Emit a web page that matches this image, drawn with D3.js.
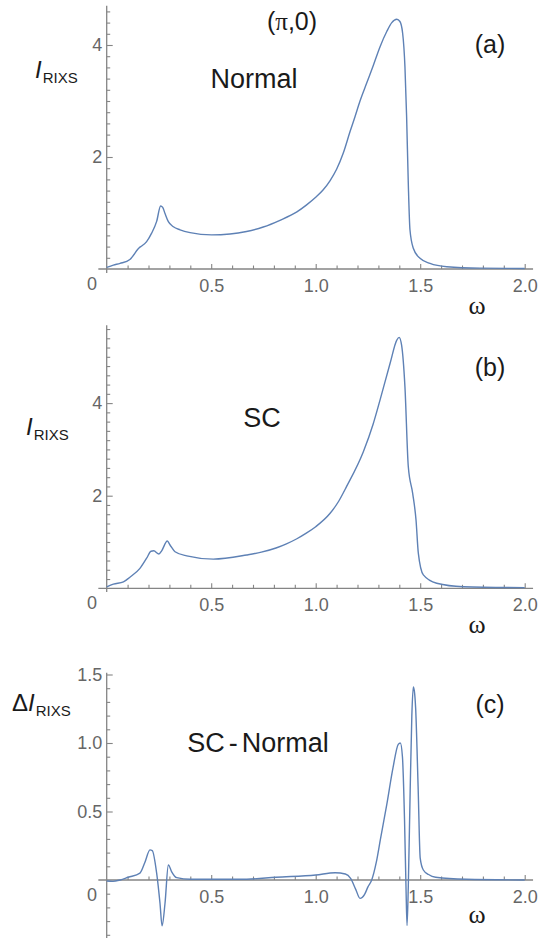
<!DOCTYPE html>
<html>
<head>
<meta charset="utf-8">
<script src="https://cdn.jsdelivr.net/npm/d3@7"></script>
<style>
  body { margin: 0; background: #fff; }
  svg { display: block; }
</style>
</head>
<body>
<svg id="chart" width="542" height="941"></svg>
<script>
// values, omega vs intensity
var omegaA = [0, 0.032, 0.064, 0.111, 0.159, 0.167, 0.191, 0.215, 0.239, 0.258, 0.268, 0.279, 0.295, 0.319, 0.351,
    0.399, 0.502, 0.59, 0.669, 0.749, 0.829, 0.91, 0.955, 1.0, 1.035, 1.069, 1.10, 1.132, 1.164, 1.188, 1.212, 1.244,
    1.276, 1.308, 1.34, 1.364, 1.388, 1.403, 1.416, 1.427, 1.435, 1.443, 1.451, 1.467, 1.499, 1.547, 1.627, 1.786, 2.0];
var normalA = [0.03, 0.07, 0.10, 0.17, 0.39, 0.41, 0.49, 0.64, 0.85, 1.125, 1.10, 0.99, 0.845, 0.755, 0.70,
    0.65, 0.61, 0.625, 0.67, 0.75, 0.87, 1.02, 1.14, 1.28, 1.41, 1.58, 1.78, 2.07, 2.45, 2.72, 3.0, 3.32,
    3.64, 3.97, 4.24, 4.40, 4.46, 4.42, 4.21, 3.61, 2.72, 1.53, 0.70, 0.37, 0.19, 0.10, 0.04, 0.015, 0.01];

var omegaB = [0, 0.032, 0.08, 0.111, 0.159, 0.191, 0.212, 0.225, 0.25, 0.263, 0.29, 0.303, 0.327, 0.383, 0.51,
    0.67, 0.74, 0.81, 0.86, 0.91, 0.955, 1.0, 1.069, 1.11, 1.148, 1.228, 1.275, 1.308, 1.356, 1.388, 1.399, 1.411,
    1.427, 1.443, 1.464, 1.48, 1.491, 1.515, 1.579, 1.706, 2.0];
var scB = [0.03, 0.09, 0.14, 0.24, 0.43, 0.65, 0.80, 0.81, 0.74, 0.81, 1.02, 0.935, 0.79, 0.70, 0.63,
    0.72, 0.78, 0.87, 0.96, 1.07, 1.19, 1.33, 1.62, 1.88, 2.2, 2.95, 3.55, 4.07, 4.86, 5.36, 5.42, 5.25,
    4.35, 2.63, 2.05, 1.475, 0.76, 0.29, 0.11, 0.035, 0.015];

var omegaC = [0, 0.03, 0.064, 0.103, 0.159, 0.183, 0.207, 0.218, 0.239, 0.255, 0.265, 0.279, 0.295, 0.311, 0.335,
    0.4, 0.67, 0.81, 1.0, 1.093, 1.142, 1.167, 1.192, 1.212, 1.234, 1.25, 1.268, 1.29, 1.31, 1.34,
    1.37, 1.395, 1.405, 1.415, 1.425, 1.432, 1.437, 1.443, 1.452, 1.46, 1.467, 1.472, 1.478, 1.49, 1.5,
    1.515, 1.54, 1.574, 1.72, 2.0];
var diffC = [-0.007, -0.01, 0, 0.02, 0.05, 0.13, 0.22, 0.215, 0.05, -0.17, -0.335, -0.17, 0.11, 0.06, 0.017,
    0.005, 0.006, 0.02, 0.036, 0.053, 0.044, 0.012, -0.07, -0.134, -0.105, -0.05, 0, 0.13, 0.3, 0.55,
    0.82, 0.99, 1.0, 0.9, 0.44, -0.05, -0.333, -0.05, 0.65, 1.2, 1.41, 1.38, 1.26, 0.68, 0.16,
    0.073, 0.04, 0.02, 0.005, 0];

// tick labels
var xTicks = [0.5, 1.0, 1.5, 2.0];
var xTickLabels = ["0.5", "1.0", "1.5", "2.0"];
var yTicksAB = [2, 4];
var yTickLabelsAB = ["2", "4"];
var yTicksC = [0.5, 1.0, 1.5];
var yTickLabelsC = ["0.5", "1.0", "1.5"];

var svg = d3.select("#chart");
var blue = "#5e81b5", axisGray = "#858585", tickText = "#666", ink = "#1a1a1a";

var x = d3.scaleLinear().domain([0, 2]).range([106.7, 524.7]);

function range(a, b, step) {
    var out = [];
    for (var v = a; v <= b + 1e-9; v += step) out.push(Math.round(v * 1000) / 1000);
    return out;
}

function drawPanel(p) {
    var y = d3.scaleLinear().domain([0, 1]).range([p.axisY, p.axisY - p.unit]);
    var g = svg.append("g");

    // axis lines
    g.append("line")
        .attr("x1", x(-0.04)).attr("x2", x(2.04))
        .attr("y1", p.axisY).attr("y2", p.axisY)
        .attr("stroke", axisGray).attr("stroke-width", 1.3);
    g.append("line")
        .attr("x1", x(0)).attr("x2", x(0))
        .attr("y1", y(p.yBottom)).attr("y2", y(p.yTop))
        .attr("stroke", axisGray).attr("stroke-width", 1.3);

    // x ticks (pointing up), minor then major with labels
    var xMinor = range(0.1, 2.0, 0.1).filter(function (v) { return Math.abs(v * 2 - Math.round(v * 2)) > 1e-6; });
    var gxm = g.append("g").attr("transform", "translate(0," + p.axisY + ")")
        .call(d3.axisBottom(x).tickValues(xMinor).tickSize(-3.5).tickFormat(""));
    var gx = g.append("g").attr("transform", "translate(0," + p.axisY + ")")
        .call(d3.axisBottom(x).tickValues(xTicks).tickSize(-5).tickPadding(10)
            .tickFormat(function (d, i) { return xTickLabels[i]; }));

    // y ticks (pointing right)
    var yMinor = range(p.yBottom < 0 ? -Math.floor(-p.yBottom / p.minor) * p.minor : 0, p.yTop, p.minor)
        .map(function (v) { return Math.round(v * 1000) / 1000; })
        .filter(function (v) { return v !== 0 && p.yTicks.indexOf(v) < 0; });
    var gym = g.append("g").attr("transform", "translate(" + x(0) + ",0)")
        .call(d3.axisLeft(y).tickValues(yMinor).tickSize(-3.5).tickFormat(""));
    var gy = g.append("g").attr("transform", "translate(" + x(0) + ",0)")
        .call(d3.axisLeft(y).tickValues(p.yTicks).tickSize(-6).tickPadding(4.5)
            .tickFormat(function (d, i) { return p.yLabels[i]; }));

    [gxm, gx, gym, gy].forEach(function (a) {
        a.select(".domain").remove();
        a.selectAll("line").attr("stroke", axisGray).attr("stroke-width", 1.1);
        a.selectAll("text").attr("fill", tickText)
            .style("font-family", "'Liberation Sans', Arial, sans-serif").style("font-size", "18px");
    });

    // origin label
    g.append("text").attr("x", 92).attr("y", p.axisY + 20.5)
        .attr("text-anchor", "middle").attr("fill", tickText)
        .style("font-family", "'Liberation Sans', Arial, sans-serif").style("font-size", "18px")
        .text("0");

    // curve
    var pts = p.omega.map(function (w, i) { return [w, p.vals[i]]; });
    var line = d3.line()
        .x(function (d) { return x(d[0]); })
        .y(function (d) { return y(d[1]); })
        .curve(d3.curveMonotoneX);
    g.append("path")
        .attr("d", line(pts))
        .attr("fill", "none")
        .attr("stroke", blue)
        .attr("stroke-width", 1.4)
        .attr("stroke-linejoin", "round");

    // omega label
    g.append("text").attr("x", 477).attr("y", p.axisY + p.omegaDy)
        .attr("text-anchor", "middle").attr("fill", ink)
        .style("font-family", "'Liberation Serif', 'Times New Roman', serif").style("font-size", "26px")
        .text("\u03c9");

    // y-axis title
    var t = g.append("text").attr("x", p.titleX).attr("y", p.titleY).attr("fill", ink)
        .style("font-family", "'Liberation Sans', Arial, sans-serif");
    if (p.delta) t.append("tspan").style("font-size", "24px").text("\u0394");
    t.append("tspan").style("font-size", "24px").style("font-style", "italic").text("I");
    t.append("tspan").style("font-size", "15px").attr("dx", 1).attr("dy", 4.5).text("RIXS");

    // panel tag and caption
    g.append("text").attr("x", 490).attr("y", p.tagY).attr("text-anchor", "middle").attr("fill", ink)
        .style("font-family", "'Liberation Sans', Arial, sans-serif").style("font-size", "25px")
        .text(p.tag);
    var c = g.append("text").attr("x", p.capX).attr("y", p.capY).attr("text-anchor", "middle").attr("fill", ink)
        .style("font-family", "'Liberation Sans', Arial, sans-serif").style("font-size", "27px");
    p.caption.forEach(function (s, i) {
        c.append("tspan").attr("dx", i ? 4 : 0).text(s);
    });
}

drawPanel({
    omega: omegaA, vals: normalA, axisY: 269, unit: 56, yTop: 4.70, yBottom: -0.07, minor: 0.2,
    yTicks: yTicksAB, yLabels: yTickLabelsAB, omegaDy: 45,
    titleX: 35, titleY: 78, tag: "(a)", tagY: 53, caption: ["Normal"], capX: 254, capY: 87.5
});
drawPanel({
    omega: omegaB, vals: scB, axisY: 588.3, unit: 46.3, yTop: 5.68, yBottom: -0.08, minor: 0.2,
    yTicks: yTicksAB, yLabels: yTickLabelsAB, omegaDy: 45,
    titleX: 26, titleY: 435, tag: "(b)", tagY: 376, caption: ["SC"], capX: 262, capY: 426.5
});
drawPanel({
    omega: omegaC, vals: diffC, axisY: 880, unit: 137, yTop: 1.513, yBottom: -0.423, minor: 0.1,
    yTicks: yTicksC, yLabels: yTickLabelsC, omegaDy: 43, delta: true,
    titleX: 12, titleY: 711, tag: "(c)", tagY: 712.5, caption: ["SC", "-", "Normal"], capX: 258, capY: 752
});

// header above panel (a)
var head = svg.append("text").attr("x", 292).attr("y", 30).attr("text-anchor", "middle").attr("fill", ink)
    .style("font-family", "'Liberation Sans', Arial, sans-serif").style("font-size", "25px");
head.append("tspan").text("(");
head.append("tspan").style("font-family", "'Liberation Serif', 'Times New Roman', serif").text("\u03c0");
head.append("tspan").text(",0)");
</script>
</body>
</html>
